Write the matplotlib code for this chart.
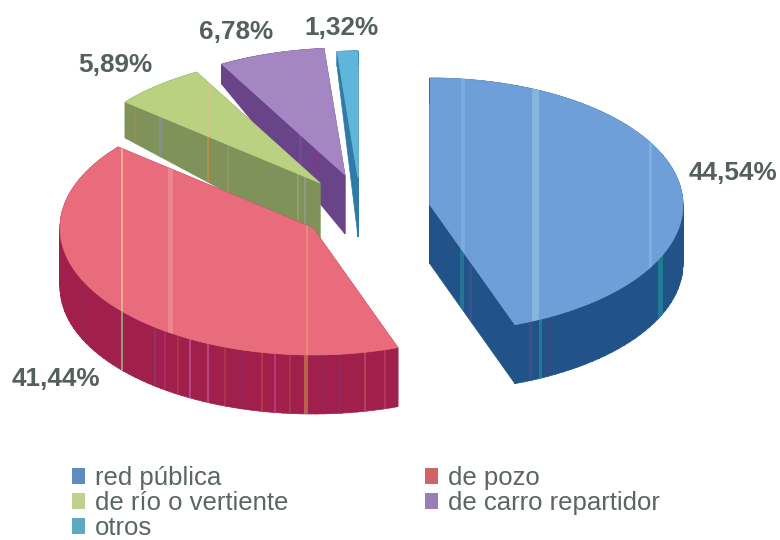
import matplotlib
matplotlib.use("Agg")
import matplotlib.pyplot as plt
import numpy as np
from matplotlib.patches import PathPatch, Patch, Polygon
from matplotlib.path import Path

plt.rcParams['font.family'] = ['Liberation Sans', 'DejaVu Sans']

categories = ['red pública', 'de pozo', 'de río o vertiente', 'de carro repartidor', 'otros']
values = [44.54, 41.44, 5.89, 6.78, 1.32]

top_colors = ['#6f9fd9', '#e86c7c', '#b9d181', '#a486c2', '#5fb6da']
wall_colors = ['#215389', '#a11f4b', '#7e9259', '#6a4488', '#2f7ba6']
legend_colors = ['#5f8cbf', '#cf6468', '#bfd08c', '#9a7db5', '#5fa9c0']

# apex of each slice on the picture, pixels
apex_x = [430, 313, 320, 345, 358]
apex_y = [205, 228, 183, 175, 178]
label_x = [733, 56, 115, 236, 341]
label_y = [173, 379, 65, 32, 28]

# stripes left by the scan: (x, colour, width)
wall_stripes = [
    [(462, '#2b7f9a', 4), (470, '#46508f', 3), (530, '#46508f', 3), (540, '#1f8a9c', 3), (548, '#50407f', 2), (660, '#1f8a9c', 5)],
    [(85, '#8c2a5a', 2), (122, '#9fc08a', 2), (155, '#8a3a70', 2), (165, '#b02a70', 2), (178, '#b03a50', 2), (190, '#c0509a', 2),
     (208, '#c0509a', 2), (225, '#b03a50', 2), (240, '#8a2a60', 2), (262, '#c04040', 2), (275, '#c83a80', 2), (290, '#b03a50', 2),
     (306, '#c07a50', 4), (325, '#8a2a60', 2), (340, '#8a2a70', 2), (365, '#c04a60', 2), (385, '#b83a70', 2)],
    [(135, '#a08a50', 2), (160, '#8090b0', 3), (208, '#d08a40', 2), (228, '#9a9a60', 2), (298, '#a0a070', 2), (305, '#90a090', 2)],
    [(300, '#7a4a98', 3), (315, '#7a3a88', 3)],
    [],
]
top_stripes = [
    [(463, '#7fb0e0', 4), (535, '#8dbce2', 7), (650, '#86b4dc', 3)],
    [(122, '#f0c090', 2), (170, '#f08a98', 5), (307, '#f09080', 2)],
    [(208, '#e0c090', 1)],
    [],
    [],
]

RX = 253
RY = 127


def depth(y):
    # the scan is in perspective, the back of the pie looks thinner
    return np.minimum(59, 15 + (y - 52) * 0.42)


fig = plt.figure(figsize=(7.8, 5.4), dpi=100)
ax = fig.add_axes([0, 0, 1, 1])
ax.set_xlim(0, 780)
ax.set_ylim(540, 0)
ax.axis('off')

edges = np.cumsum([0] + values) / sum(values) * 2 * np.pi

z = 1
for i in [4, 3, 2, 0, 1]:
    t = np.linspace(edges[i], edges[i + 1], 80)
    xs = np.r_[apex_x[i], apex_x[i] + RX * np.sin(t), apex_x[i]]
    ys = np.r_[apex_y[i], apex_y[i] - RY * np.cos(t), apex_y[i]]
    ys2 = ys + depth(ys)

    quads = []
    for k in range(len(xs) - 1):
        q = np.array([[xs[k], ys[k]], [xs[k + 1], ys[k + 1]], [xs[k + 1], ys2[k + 1]], [xs[k], ys2[k]], [xs[k], ys[k]]])
        if xs[k + 1] < xs[k]:
            q = q[::-1]
        quads.append(Path(q, closed=True))
    wall_path = Path.make_compound_path(*quads)
    wall = PathPatch(wall_path, facecolor=wall_colors[i], edgecolor=wall_colors[i], lw=0.5, zorder=z)
    ax.add_patch(wall)
    for x, c, w in wall_stripes[i]:
        line = ax.axvline(x, color=c, lw=w * 0.72, alpha=0.75, zorder=z + 1)
        line.set_clip_path(wall)

    top = Polygon(np.c_[xs, ys], closed=True, facecolor=top_colors[i], edgecolor=top_colors[i], lw=0.5, zorder=z + 2)
    ax.add_patch(top)
    for x, c, w in top_stripes[i]:
        line = ax.axvline(x, color=c, lw=w * 0.72, alpha=0.8, zorder=z + 3)
        line.set_clip_path(top)
    z += 4

for v, x, y in zip(values, label_x, label_y):
    text = f"{v:.2f}".replace('.', ',') + '%'
    ax.text(x, y, text, ha='center', va='center', fontsize=18.8, fontweight='bold', color='#55605c', zorder=z)

order = [0, 2, 4, 1, 3]
handles = [Patch(facecolor=legend_colors[i], edgecolor='none', label=categories[i]) for i in order]
ax.legend(handles=handles, ncol=2, frameon=False, fontsize=18.5, labelcolor='#5a665f',
          loc='upper left', bbox_to_anchor=(72 / 780, 1 - 466 / 540), borderaxespad=0, borderpad=0,
          handlelength=0.5, handleheight=0.55, handletextpad=0.4, columnspacing=5.3, labelspacing=0.04)

fig.savefig('out.png', dpi=100)
